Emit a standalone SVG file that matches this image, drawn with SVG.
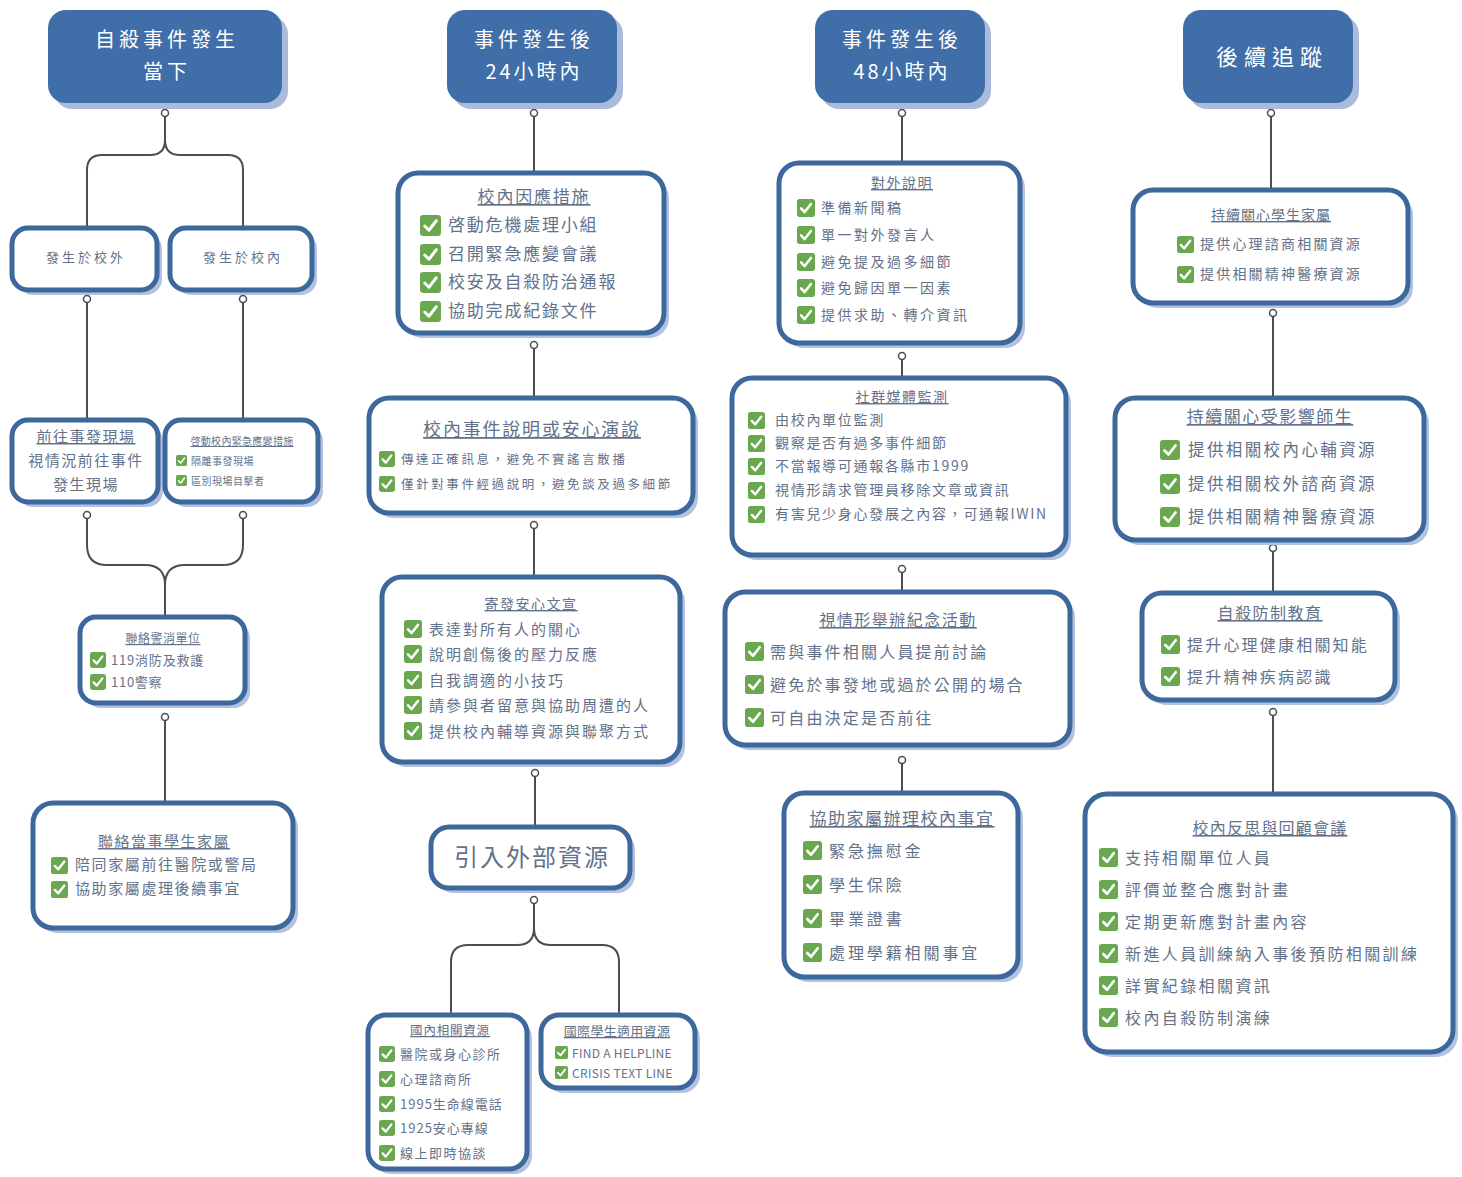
<svg xmlns="http://www.w3.org/2000/svg" xmlns:xlink="http://www.w3.org/1999/xlink" width="1462" height="1177" viewBox="0 0 1462 1177">
<style>
.sh{fill:#b3c2e0}
.bx{fill:#fff;stroke:#3d689c;stroke-width:5}
.hd{fill:#3f6ea8}
.hs{fill:#a9bbdc}
text{font-family:"Noto Sans CJK TC","Noto Sans CJK SC","Noto Sans",sans-serif;fill:#63728a}
.t{text-anchor:middle;text-decoration:underline}
.c{text-anchor:middle}
.ht{fill:#fff;text-anchor:middle}
.ln{fill:none;stroke:#4d4d4d;stroke-width:2}
.dot{fill:#fff;stroke:#4d4d4d;stroke-width:1.5}
</style>
<defs>
<symbol id="ck" viewBox="0 0 20 20"><rect width="20" height="20" rx="3" fill="#6aa84f"/><path d="M4.5 10.5 L8.5 14.5 L15.5 5.5" fill="none" stroke="#fff" stroke-width="2.8" stroke-linecap="round" stroke-linejoin="round"/></symbol>
</defs>
<rect width="1462" height="1177" fill="#fff"/>

<g id="connectors">
<path class="ln" d="M165,117 V140 Q165,155 150,155 H102 Q87,155 87,170 V228"/>
<path class="ln" d="M165,140 Q165,155 180,155 H228 Q243,155 243,170 V228"/>
<path class="ln" d="M87,303 V420"/>
<path class="ln" d="M243,303 V420"/>
<path class="ln" d="M87,519 V545 Q87,565 107,565 H145 Q165,565 165,585 V617"/>
<path class="ln" d="M243,519 V545 Q243,565 223,565 H185 Q165,565 165,585"/>
<path class="ln" d="M165,721 V803"/>
<path class="ln" d="M534,117 V173"/>
<path class="ln" d="M534,349 V398"/>
<path class="ln" d="M534,529 V577"/>
<path class="ln" d="M535,777 V827"/>
<path class="ln" d="M534,904 V928 Q534,945 517,945 H468 Q451,945 451,962 V1015"/>
<path class="ln" d="M534,928 Q534,945 551,945 H602 Q619,945 619,962 V1015"/>
<path class="ln" d="M902,117 V163"/>
<path class="ln" d="M902,360 V378"/>
<path class="ln" d="M902,573 V592"/>
<path class="ln" d="M902,764 V793"/>
<path class="ln" d="M1271,117 V190"/>
<path class="ln" d="M1273,317 V398"/>
<path class="ln" d="M1273,552 V593"/>
<path class="ln" d="M1273,716 V794"/>
<circle class="dot" cx="165" cy="113" r="3.5"/>
<circle class="dot" cx="87" cy="299" r="3.5"/>
<circle class="dot" cx="243" cy="299" r="3.5"/>
<circle class="dot" cx="87" cy="515" r="3.5"/>
<circle class="dot" cx="243" cy="515" r="3.5"/>
<circle class="dot" cx="165" cy="717" r="3.5"/>
<circle class="dot" cx="534" cy="113" r="3.5"/>
<circle class="dot" cx="534" cy="345" r="3.5"/>
<circle class="dot" cx="534" cy="525" r="3.5"/>
<circle class="dot" cx="535" cy="773" r="3.5"/>
<circle class="dot" cx="534" cy="900" r="3.5"/>
<circle class="dot" cx="902" cy="113" r="3.5"/>
<circle class="dot" cx="902" cy="356" r="3.5"/>
<circle class="dot" cx="902" cy="569" r="3.5"/>
<circle class="dot" cx="902" cy="760" r="3.5"/>
<circle class="dot" cx="1271" cy="113" r="3.5"/>
<circle class="dot" cx="1273" cy="313" r="3.5"/>
<circle class="dot" cx="1273" cy="548" r="3.5"/>
<circle class="dot" cx="1273" cy="712" r="3.5"/>
</g>

<!-- Headers -->
<g id="h1">
<rect class="hs" x="54" y="16" width="234" height="93" rx="18"/>
<rect class="hd" x="48" y="10" width="234" height="93" rx="18"/>
<text class="ht" x="167" y="47" font-size="20" letter-spacing="4">自殺事件發生</text>
<text class="ht" x="167" y="79" font-size="20" letter-spacing="4">當下</text>
</g>
<g id="h2">
<rect class="hs" x="453" y="16" width="170" height="93" rx="18"/>
<rect class="hd" x="447" y="10" width="170" height="93" rx="18"/>
<text class="ht" x="534" y="47" font-size="20" letter-spacing="4">事件發生後</text>
<text class="ht" x="534" y="79" font-size="20" letter-spacing="3">24小時內</text>
</g>
<g id="h3">
<rect class="hs" x="821" y="16" width="170" height="93" rx="18"/>
<rect class="hd" x="815" y="10" width="170" height="93" rx="18"/>
<text class="ht" x="902" y="47" font-size="20" letter-spacing="4">事件發生後</text>
<text class="ht" x="902" y="79" font-size="20" letter-spacing="3">48小時內</text>
</g>
<g id="h4">
<rect class="hs" x="1189" y="16" width="170" height="93" rx="18"/>
<rect class="hd" x="1183" y="10" width="170" height="93" rx="18"/>
<text class="ht" x="1272" y="65" font-size="22" letter-spacing="6">後續追蹤</text>
</g>

<!-- Column 1 -->
<g id="n_out">
<rect class="sh" x="17" y="233" width="145" height="62" rx="16"/>
<rect class="bx" x="12" y="228" width="145" height="62" rx="16"/>
<text class="c" x="86" y="262" font-size="13" letter-spacing="3">發生於校外</text>
</g>
<g id="n_in">
<rect class="sh" x="175" y="233" width="142" height="62" rx="16"/>
<rect class="bx" x="170" y="228" width="142" height="62" rx="16"/>
<text class="c" x="243" y="262" font-size="13" letter-spacing="3">發生於校內</text>
</g>
<g id="n_go">
<rect class="sh" x="17" y="425" width="146" height="82" rx="16"/>
<rect class="bx" x="12" y="420" width="146" height="82" rx="16"/>
<text class="t" x="86" y="442" font-size="15" letter-spacing="1.5">前往事發現場</text>
<text class="c" x="86" y="466" font-size="15" letter-spacing="1.5">視情況前往事件</text>
<text class="c" x="86" y="490" font-size="15" letter-spacing="1.5">發生現場</text>
</g>
<g id="n_act">
<rect class="sh" x="170" y="425" width="153" height="82" rx="16"/>
<rect class="bx" x="165" y="420" width="153" height="82" rx="16"/>
<text class="t" x="242" y="445" font-size="10" letter-spacing="0.3">啓動校內緊急應變措施</text>
<use href="#ck" x="176" y="455" width="11" height="11"/>
<text x="191" y="465" font-size="10" letter-spacing="0.5">隔離事發現場</text>
<use href="#ck" x="176" y="475" width="11" height="11"/>
<text x="191" y="485" font-size="10" letter-spacing="0.5">區別現場目擊者</text>
</g>
<g id="n_police">
<rect class="sh" x="85" y="622" width="165" height="86" rx="16"/>
<rect class="bx" x="80" y="617" width="165" height="86" rx="16"/>
<text class="t" x="163" y="643" font-size="12" letter-spacing="0.5">聯絡警消單位</text>
<use href="#ck" x="90" y="652" width="16" height="16"/>
<text x="111" y="665" font-size="13" letter-spacing="0.8">119消防及救護</text>
<use href="#ck" x="90" y="674" width="16" height="16"/>
<text x="111" y="687" font-size="13" letter-spacing="0.8">110警察</text>
</g>
<g id="n_family">
<rect class="sh" x="38" y="808" width="260" height="125" rx="20"/>
<rect class="bx" x="33" y="803" width="260" height="125" rx="20"/>
<text class="t" x="164" y="847" font-size="15" letter-spacing="1.5">聯絡當事學生家屬</text>
<use href="#ck" x="51" y="857" width="17" height="17"/>
<text x="75" y="870" font-size="15" letter-spacing="1.6">陪同家屬前往醫院或警局</text>
<use href="#ck" x="51" y="881" width="17" height="17"/>
<text x="75" y="894" font-size="15" letter-spacing="1.6">協助家屬處理後續事宜</text>
</g>

<!-- Column 2 -->
<g id="n_measure">
<rect class="sh" x="403" y="178" width="266" height="160" rx="20"/>
<rect class="bx" x="398" y="173" width="266" height="160" rx="20"/>
<text class="t" x="534" y="203" font-size="17" letter-spacing="1.8">校內因應措施</text>
<use href="#ck" x="420" y="215" width="21" height="21"/>
<text x="448" y="231" font-size="17" letter-spacing="1.8">啓動危機處理小組</text>
<use href="#ck" x="420" y="244" width="21" height="21"/>
<text x="448" y="260" font-size="17" letter-spacing="1.8">召開緊急應變會議</text>
<use href="#ck" x="420" y="272" width="21" height="21"/>
<text x="448" y="288" font-size="17" letter-spacing="1.8">校安及自殺防治通報</text>
<use href="#ck" x="420" y="301" width="21" height="21"/>
<text x="448" y="317" font-size="17" letter-spacing="1.8">協助完成紀錄文件</text>
</g>
<g id="n_speech">
<rect class="sh" x="374" y="403" width="324" height="115" rx="20"/>
<rect class="bx" x="369" y="398" width="324" height="115" rx="20"/>
<text class="t" x="532" y="436" font-size="18" letter-spacing="1.8">校內事件說明或安心演說</text>
<use href="#ck" x="379" y="451" width="16" height="16"/>
<text x="401" y="464" font-size="12.5" letter-spacing="2.6">傳達正確訊息，避免不實謠言散播</text>
<use href="#ck" x="379" y="476" width="16" height="16"/>
<text x="401" y="489" font-size="12.5" letter-spacing="2.6">僅針對事件經過說明，避免談及過多細節</text>
</g>
<g id="n_letter">
<rect class="sh" x="387" y="582" width="298" height="185" rx="20"/>
<rect class="bx" x="382" y="577" width="298" height="185" rx="20"/>
<text class="t" x="531" y="609" font-size="14" letter-spacing="1.5">寄發安心文宣</text>
<use href="#ck" x="404" y="620" width="18" height="18"/>
<text x="429" y="634.5" font-size="15" letter-spacing="2">表達對所有人的關心</text>
<use href="#ck" x="404" y="645" width="18" height="18"/>
<text x="429" y="659.5" font-size="15" letter-spacing="2">說明創傷後的壓力反應</text>
<use href="#ck" x="404" y="671" width="18" height="18"/>
<text x="429" y="685.5" font-size="15" letter-spacing="2">自我調適的小技巧</text>
<use href="#ck" x="404" y="696" width="18" height="18"/>
<text x="429" y="710.5" font-size="15" letter-spacing="2">請參與者留意與協助周遭的人</text>
<use href="#ck" x="404" y="722" width="18" height="18"/>
<text x="429" y="736.5" font-size="15" letter-spacing="2">提供校內輔導資源與聯聚方式</text>
</g>
<g id="n_ext">
<rect class="sh" x="436" y="832" width="199" height="61" rx="18"/>
<rect class="bx" x="431" y="827" width="199" height="61" rx="18"/>
<text class="c" x="532" y="866" font-size="24" letter-spacing="2">引入外部資源</text>
</g>
<g id="n_dom">
<rect class="sh" x="373" y="1020" width="159" height="154" rx="18"/>
<rect class="bx" x="368" y="1015" width="159" height="154" rx="18"/>
<text class="t" x="450" y="1035" font-size="12.5" letter-spacing="0.8">國內相關資源</text>
<use href="#ck" x="379" y="1046" width="16" height="16"/>
<text x="400" y="1058.5" font-size="13" letter-spacing="1.5">醫院或身心診所</text>
<use href="#ck" x="379" y="1071" width="16" height="16"/>
<text x="400" y="1083.5" font-size="13" letter-spacing="1.5">心理諮商所</text>
<use href="#ck" x="379" y="1096" width="16" height="16"/>
<text x="400" y="1108.5" font-size="13" letter-spacing="1">1995生命線電話</text>
<use href="#ck" x="379" y="1120" width="16" height="16"/>
<text x="400" y="1132.5" font-size="13" letter-spacing="1">1925安心專線</text>
<use href="#ck" x="379" y="1145" width="16" height="16"/>
<text x="400" y="1157.5" font-size="13" letter-spacing="1.5">線上即時協談</text>
</g>
<g id="n_intl">
<rect class="sh" x="546" y="1020" width="154" height="73" rx="18"/>
<rect class="bx" x="541" y="1015" width="154" height="73" rx="18"/>
<text class="t" x="617" y="1036" font-size="13" letter-spacing="0.3">國際學生適用資源</text>
<use href="#ck" x="555" y="1046" width="13" height="13"/>
<text x="572" y="1057.5" font-size="12" letter-spacing="0.3">FIND A HELPLINE</text>
<use href="#ck" x="555" y="1066" width="13" height="13"/>
<text x="572" y="1077.5" font-size="12" letter-spacing="0.3">CRISIS TEXT LINE</text>
</g>

<!-- Column 3 -->
<g id="n_public">
<rect class="sh" x="784" y="168" width="241" height="180" rx="20"/>
<rect class="bx" x="779" y="163" width="241" height="180" rx="20"/>
<text class="t" x="902" y="188" font-size="14" letter-spacing="1.5">對外說明</text>
<use href="#ck" x="797" y="199" width="18" height="18"/>
<text x="821" y="213" font-size="14" letter-spacing="2.5">準備新聞稿</text>
<use href="#ck" x="797" y="226" width="18" height="18"/>
<text x="821" y="240" font-size="14" letter-spacing="2.5">單一對外發言人</text>
<use href="#ck" x="797" y="253" width="18" height="18"/>
<text x="821" y="267" font-size="14" letter-spacing="2.5">避免提及過多細節</text>
<use href="#ck" x="797" y="279" width="18" height="18"/>
<text x="821" y="293" font-size="14" letter-spacing="2.5">避免歸因單一因素</text>
<use href="#ck" x="797" y="306" width="18" height="18"/>
<text x="821" y="320" font-size="14" letter-spacing="2.5">提供求助、轉介資訊</text>
</g>
<g id="n_social">
<rect class="sh" x="737" y="383" width="334" height="177" rx="20"/>
<rect class="bx" x="732" y="378" width="334" height="177" rx="20"/>
<text class="t" x="902" y="402" font-size="14" letter-spacing="1.5">社群媒體監測</text>
<use href="#ck" x="748" y="412" width="17" height="17"/>
<text x="775" y="425" font-size="14" letter-spacing="1.7">由校內單位監測</text>
<use href="#ck" x="748" y="435" width="17" height="17"/>
<text x="775" y="448" font-size="14" letter-spacing="1.7">觀察是否有過多事件細節</text>
<use href="#ck" x="748" y="458" width="17" height="17"/>
<text x="775" y="471" font-size="14" letter-spacing="1.7">不當報導可通報各縣市1999</text>
<use href="#ck" x="748" y="482" width="17" height="17"/>
<text x="775" y="495" font-size="14" letter-spacing="1.7">視情形請求管理員移除文章或資訊</text>
<use href="#ck" x="748" y="506" width="17" height="17"/>
<text x="775" y="519" font-size="14" letter-spacing="1.7">有害兒少身心發展之內容，可通報IWIN</text>
</g>
<g id="n_memorial">
<rect class="sh" x="730" y="597" width="345" height="153" rx="20"/>
<rect class="bx" x="725" y="592" width="345" height="153" rx="20"/>
<text class="t" x="898" y="626" font-size="16" letter-spacing="1.5">視情形舉辦紀念活動</text>
<use href="#ck" x="745" y="642" width="19" height="19"/>
<text x="770" y="658" font-size="16" letter-spacing="2.2">需與事件相關人員提前討論</text>
<use href="#ck" x="745" y="675" width="19" height="19"/>
<text x="770" y="691" font-size="16" letter-spacing="2.2">避免於事發地或過於公開的場合</text>
<use href="#ck" x="745" y="708" width="19" height="19"/>
<text x="770" y="724" font-size="16" letter-spacing="2.2">可自由決定是否前往</text>
</g>
<g id="n_assist">
<rect class="sh" x="789" y="798" width="234" height="184" rx="20"/>
<rect class="bx" x="784" y="793" width="234" height="184" rx="20"/>
<text class="t" x="902" y="825" font-size="17" letter-spacing="1.5">協助家屬辦理校內事宜</text>
<use href="#ck" x="803" y="841" width="19" height="19"/>
<text x="829" y="857" font-size="16" letter-spacing="2.9">緊急撫慰金</text>
<use href="#ck" x="803" y="875" width="19" height="19"/>
<text x="829" y="891" font-size="16" letter-spacing="2.9">學生保險</text>
<use href="#ck" x="803" y="909" width="19" height="19"/>
<text x="829" y="925" font-size="16" letter-spacing="2.9">畢業證書</text>
<use href="#ck" x="803" y="943" width="19" height="19"/>
<text x="829" y="959" font-size="16" letter-spacing="2.9">處理學籍相關事宜</text>
</g>

<!-- Column 4 -->
<g id="n_fam2">
<rect class="sh" x="1138" y="195" width="275" height="113" rx="20"/>
<rect class="bx" x="1133" y="190" width="275" height="113" rx="20"/>
<text class="t" x="1271" y="220" font-size="14" letter-spacing="1">持續關心學生家屬</text>
<use href="#ck" x="1177" y="236" width="17" height="17"/>
<text x="1200" y="249" font-size="14" letter-spacing="2.2">提供心理諮商相關資源</text>
<use href="#ck" x="1177" y="266" width="17" height="17"/>
<text x="1200" y="279" font-size="14" letter-spacing="2.2">提供相關精神醫療資源</text>
</g>
<g id="n_staff">
<rect class="sh" x="1120" y="403" width="309" height="142" rx="20"/>
<rect class="bx" x="1115" y="398" width="309" height="142" rx="20"/>
<text class="t" x="1270" y="423" font-size="17" letter-spacing="1.5">持續關心受影響師生</text>
<use href="#ck" x="1160" y="440" width="20" height="20"/>
<text x="1188" y="456" font-size="16.5" letter-spacing="2.4">提供相關校內心輔資源</text>
<use href="#ck" x="1160" y="474" width="20" height="20"/>
<text x="1188" y="490" font-size="16.5" letter-spacing="2.4">提供相關校外諮商資源</text>
<use href="#ck" x="1160" y="507" width="20" height="20"/>
<text x="1188" y="523" font-size="16.5" letter-spacing="2.4">提供相關精神醫療資源</text>
</g>
<g id="n_edu">
<rect class="sh" x="1147" y="598" width="253" height="107" rx="20"/>
<rect class="bx" x="1142" y="593" width="253" height="107" rx="20"/>
<text class="t" x="1270" y="619" font-size="16" letter-spacing="1.5">自殺防制教育</text>
<use href="#ck" x="1161" y="635" width="19" height="19"/>
<text x="1187" y="651" font-size="16" letter-spacing="2.2">提升心理健康相關知能</text>
<use href="#ck" x="1161" y="667" width="19" height="19"/>
<text x="1187" y="683" font-size="16" letter-spacing="2.2">提升精神疾病認識</text>
</g>
<g id="n_review">
<rect class="sh" x="1090" y="799" width="368" height="258" rx="22"/>
<rect class="bx" x="1085" y="794" width="368" height="258" rx="22"/>
<text class="t" x="1270" y="834" font-size="16" letter-spacing="1.2">校內反思與回顧會議</text>
<use href="#ck" x="1099" y="848" width="19" height="19"/>
<text x="1125" y="864" font-size="16" letter-spacing="2.4">支持相關單位人員</text>
<use href="#ck" x="1099" y="880" width="19" height="19"/>
<text x="1125" y="896" font-size="16" letter-spacing="2.4">評價並整合應對計畫</text>
<use href="#ck" x="1099" y="912" width="19" height="19"/>
<text x="1125" y="928" font-size="16" letter-spacing="2.4">定期更新應對計畫內容</text>
<use href="#ck" x="1099" y="944" width="19" height="19"/>
<text x="1125" y="960" font-size="16" letter-spacing="2.4">新進人員訓練納入事後預防相關訓練</text>
<use href="#ck" x="1099" y="976" width="19" height="19"/>
<text x="1125" y="992" font-size="16" letter-spacing="2.4">詳實紀錄相關資訊</text>
<use href="#ck" x="1099" y="1008" width="19" height="19"/>
<text x="1125" y="1024" font-size="16" letter-spacing="2.4">校內自殺防制演練</text>
</g>
</svg>
